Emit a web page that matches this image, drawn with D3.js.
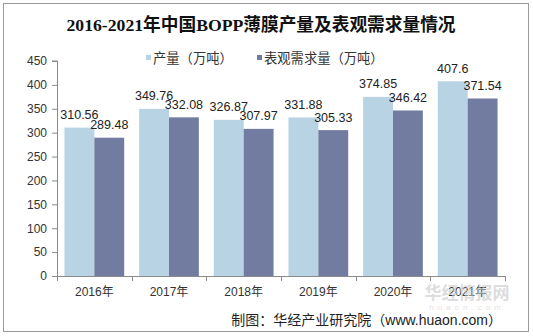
<!DOCTYPE html>
<html><head><meta charset="utf-8">
<script src="https://cdn.jsdelivr.net/npm/d3@7"></script>
<style>body{margin:0;background:#fff}svg{display:block}</style>
</head><body>
<svg id="c" width="533" height="336"></svg>
<script>
const categories = ["2016年","2017年","2018年","2019年","2020年","2021年"];
const production = [310.56, 349.76, 326.87, 331.88, 374.85, 407.6];
const demand = [289.48, 332.08, 307.97, 305.33, 346.42, 371.54];
const seriesNames = ["产量（万吨）","表观需求量（万吨）"];
const yTicks = [0,50,100,150,200,250,300,350,400,450];
const title = "2016-2021年中国BOPP薄膜产量及表观需求量情况";
const source = "制图：华经产业研究院（www.huaon.com）";
const colors = ["#b8d3e4","#717ca0"];

const svg = d3.select("#c");
const font = "Liberation Sans, Arial, Noto Sans CJK SC, sans-serif";
svg.append("rect").attr("x",3.5).attr("y",3.5).attr("width",525).attr("height",328)
  .attr("fill","#fff").attr("stroke","#9a9a9a").attr("stroke-width",1);

svg.append("text").attr("x",261).attr("y",31).attr("text-anchor","middle")
  .attr("font-family","Liberation Serif, Noto Sans CJK SC, serif").attr("font-weight","bold")
  .attr("font-size",17.7).attr("fill","#111").text(title);

const x0 = d3.scaleBand().domain(categories).range([57,505]).paddingInner(0).paddingOuter(0);
const x1 = d3.scaleBand().domain([0,1]).range([0,x0.bandwidth()]).paddingInner(0).paddingOuter(0.25);
const y = d3.scaleLinear().domain([0,450]).range([276,61]);

// y axis
const ya = svg.append("g").attr("transform","translate(57,0)")
  .call(d3.axisLeft(y).tickValues(yTicks).tickSize(5).tickPadding(5).tickFormat(d3.format("d")));
ya.select(".domain").attr("stroke","#8a8a8a").attr("d","M-5,276.5H0.5V61H-5");
ya.selectAll(".tick line").attr("stroke","#8a8a8a");
ya.selectAll(".tick text").attr("font-family",font).attr("font-size",12).attr("fill","#333");

// bars
const series = [production, demand];
series.forEach((vals,si)=>{
  svg.append("g").selectAll("rect").data(vals).join("rect")
    .attr("x",(d,i)=>x0(categories[i])+x1(si))
    .attr("width",x1.bandwidth())
    .attr("y",d=>y(d)).attr("height",d=>y(0)-y(d))
    .attr("fill",colors[si]);
});

// x axis
const xa = svg.append("g").attr("transform","translate(0,276)")
  .call(d3.axisBottom(x0).tickSize(0).tickPadding(11));
xa.select(".domain").attr("stroke","#8a8a8a");
xa.selectAll(".tick text").attr("font-family",font).attr("font-size",12).attr("fill","#333");
const edges = categories.map(c=>x0(c)).concat([x0.range()[1]]);
xa.selectAll(".edge").data(edges).join("line").attr("class","edge")
  .attr("x1",d=>Math.round(d)+0.5).attr("x2",d=>Math.round(d)+0.5).attr("y1",0).attr("y2",5)
  .attr("stroke","#8a8a8a");

// labels
series.forEach((vals,si)=>{
  svg.append("g").selectAll("text").data(vals).join("text")
    .attr("x",(d,i)=>x0(categories[i])+x1(si)+x1.bandwidth()/2)
    .attr("y",d=>y(d)-8.5)
    .attr("text-anchor","middle")
    .attr("font-family",font).attr("font-size",12.5).attr("fill","#222")
    .text(d=>d);
});

// legend
const lg = svg.append("g");
const lx = [146, 257];
seriesNames.forEach((n,i)=>{
  lg.append("rect").attr("x",lx[i]).attr("y",55).attr("width",5).attr("height",5).attr("fill",colors[i]);
  lg.append("text").attr("x",lx[i]+7).attr("y",62.5).attr("font-family","Noto Sans CJK SC, sans-serif")
    .attr("font-size",13.3).attr("fill","#333").text(n);
});

// watermark
svg.append("text").attr("x",467).attr("y",299).attr("text-anchor","middle")
  .attr("font-family","Noto Sans CJK SC, sans-serif").attr("font-weight","bold").attr("font-size",17)
  .attr("fill","#c8c8c8").attr("opacity",0.6).text("华经情报网");
svg.append("text").attr("x",467).attr("y",310).attr("text-anchor","middle")
  .attr("font-family",font).attr("font-size",8).attr("letter-spacing",4)
  .attr("fill","#d0d0d0").attr("opacity",0.6).text("huaon.com");

svg.append("text").attr("x",502).attr("y",325).attr("text-anchor","end")
  .attr("font-family","Liberation Sans, Noto Sans CJK SC, sans-serif").attr("font-size",14)
  .attr("fill","#222").text(source);
</script>
</body></html>
